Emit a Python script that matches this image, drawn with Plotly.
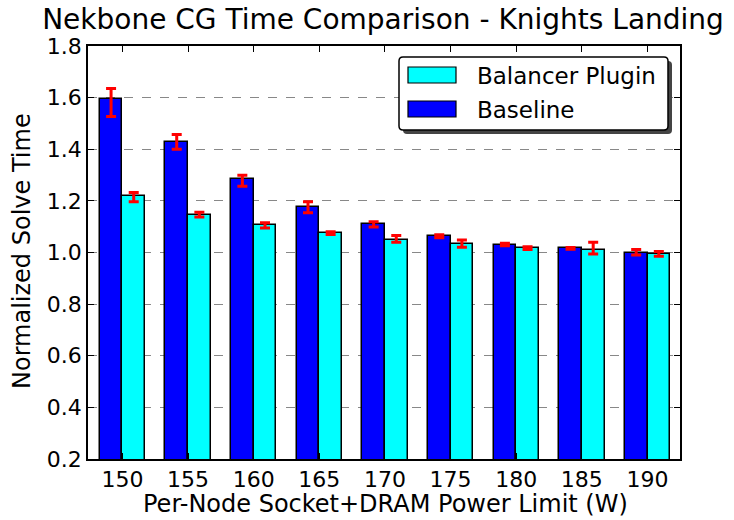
import plotly.graph_objects as go

# Data
power_limits = ["150", "155", "160", "165", "170", "175", "180", "185", "190"]
baseline = [1.596, 1.429, 1.286, 1.177, 1.109, 1.063, 1.031, 1.016, 1.000]
baseline_err_plus = [0.039, 0.028, 0.013, 0.020, 0.010, 0.006, 0.005, 0.003, 0.012]
baseline_err_minus = [0.069, 0.029, 0.029, 0.023, 0.010, 0.006, 0.005, 0.003, 0.010]
balancer = [1.220, 1.147, 1.105, 1.075, 1.049, 1.034, 1.017, 1.008, 0.995]
balancer_err_plus = [0.012, 0.009, 0.010, 0.005, 0.017, 0.014, 0.005, 0.032, 0.009]
balancer_err_minus = [0.023, 0.009, 0.010, 0.005, 0.009, 0.014, 0.005, 0.014, 0.010]

FONT = "DejaVu Sans"
idx = list(range(len(power_limits)))
bar_w = 0.345

err_style = dict(type="data", symmetric=False, color="red", thickness=3, width=5)

fig = go.Figure()
fig.add_trace(go.Bar(
    x=idx, y=baseline, name="Baseline", width=bar_w, offset=-bar_w,
    marker=dict(color="#0000ff", line=dict(color="black", width=1.5)),
    error_y=dict(array=baseline_err_plus, arrayminus=baseline_err_minus, **err_style),
    showlegend=False,
))
fig.add_trace(go.Bar(
    x=idx, y=balancer, name="Balancer Plugin", width=bar_w, offset=0,
    marker=dict(color="#00ffff", line=dict(color="black", width=1.5)),
    error_y=dict(array=balancer_err_plus, arrayminus=balancer_err_minus, **err_style),
    showlegend=False,
))

# plot area in pixels: x 88..680, y 46..459
L, R, T, B = 88, 680, 46, 459
W, H = 734, 520
pw, ph = R - L, B - T


def px(xp):
    return (xp - L) / pw


def py(yp):
    return (B - yp) / ph


def rounded_rect(x0, y0, x1, y1, r=4):
    rx, ry = r / pw, r / ph
    a, b, c, d = px(x0), py(y1), px(x1), py(y0)  # left, bottom, right, top in paper
    return (f"M {a+rx},{b} L {c-rx},{b} Q {c},{b} {c},{b+ry} "
            f"L {c},{d-ry} Q {c},{d} {c-rx},{d} L {a+rx},{d} "
            f"Q {a},{d} {a},{d-ry} L {a},{b+ry} Q {a},{b} {a+rx},{b} Z")


# hand-built legend box with shadow, matplotlib style
shapes = [
    dict(type="path", xref="paper", yref="paper",
         path=rounded_rect(403, 61, 672, 134), fillcolor="#444444",
         line=dict(width=0), layer="above"),
    dict(type="path", xref="paper", yref="paper",
         path=rounded_rect(399, 57, 668, 130), fillcolor="white",
         line=dict(color="black", width=1.5), layer="above"),
    dict(type="rect", xref="paper", yref="paper",
         x0=px(408), x1=px(456), y0=py(83), y1=py(67),
         fillcolor="#00ffff", line=dict(color="black", width=1.2), layer="above"),
    dict(type="rect", xref="paper", yref="paper",
         x0=px(408), x1=px(456), y0=py(117), y1=py(101),
         fillcolor="#0000ff", line=dict(color="black", width=1.2), layer="above"),
]

annotations = [
    dict(text="Balancer Plugin", x=px(475), y=py(76), xref="paper", yref="paper",
         xanchor="left", yanchor="middle", showarrow=False,
         font=dict(family=FONT, size=23, color="black")),
    dict(text="Baseline", x=px(475), y=py(110), xref="paper", yref="paper",
         xanchor="left", yanchor="middle", showarrow=False,
         font=dict(family=FONT, size=23, color="black")),
    dict(text="Per-Node Socket+DRAM Power Limit (W)", x=px(385), y=py(504),
         xref="paper", yref="paper", xanchor="center", yanchor="middle",
         showarrow=False, font=dict(family=FONT, size=24, color="black")),
    dict(text="Normalized Solve Time", x=px(22), y=py(251), textangle=-90,
         xref="paper", yref="paper", xanchor="center", yanchor="middle",
         showarrow=False, font=dict(family=FONT, size=24, color="black")),
]

fig.update_layout(
    width=W, height=H,
    margin=dict(l=L, r=W - R, t=T, b=H - B, autoexpand=False),
    paper_bgcolor="white", plot_bgcolor="white",
    font=dict(family=FONT, size=22, color="black"),
    title=dict(text="Nekbone CG Time Comparison - Knights Landing",
               x=(40 + 726) / 2 / W, xanchor="center", y=1 - 19 / H, yanchor="middle",
               font=dict(family=FONT, size=28, color="black")),
    shapes=shapes,
    annotations=annotations,
    bargap=0,
)

fig.update_xaxes(
    range=[-0.524, 8.495], tickmode="array", tickvals=idx, ticktext=power_limits,
    ticks="inside", ticklen=6, tickwidth=1, tickcolor="black",
    showline=True, linecolor="black", linewidth=1.5, mirror="ticks",
    showgrid=False, zeroline=False, tickfont=dict(size=22), automargin=False,
)
fig.update_yaxes(
    range=[0.2, 1.8], tickmode="array",
    tickvals=[0.2, 0.4, 0.6, 0.8, 1.0, 1.2, 1.4, 1.6, 1.8],
    tickformat=".1f",
    ticks="inside", ticklen=6, tickwidth=1, tickcolor="black",
    showline=True, linecolor="black", linewidth=1.5, mirror="ticks",
    showgrid=True, gridcolor="#888888", griddash="dash", gridwidth=1.2,
    zeroline=False, tickfont=dict(size=22), automargin=False,
)

fig.write_html("out.html", config={"displayModeBar": False},
               post_script="document.body.style.margin = '0';")
